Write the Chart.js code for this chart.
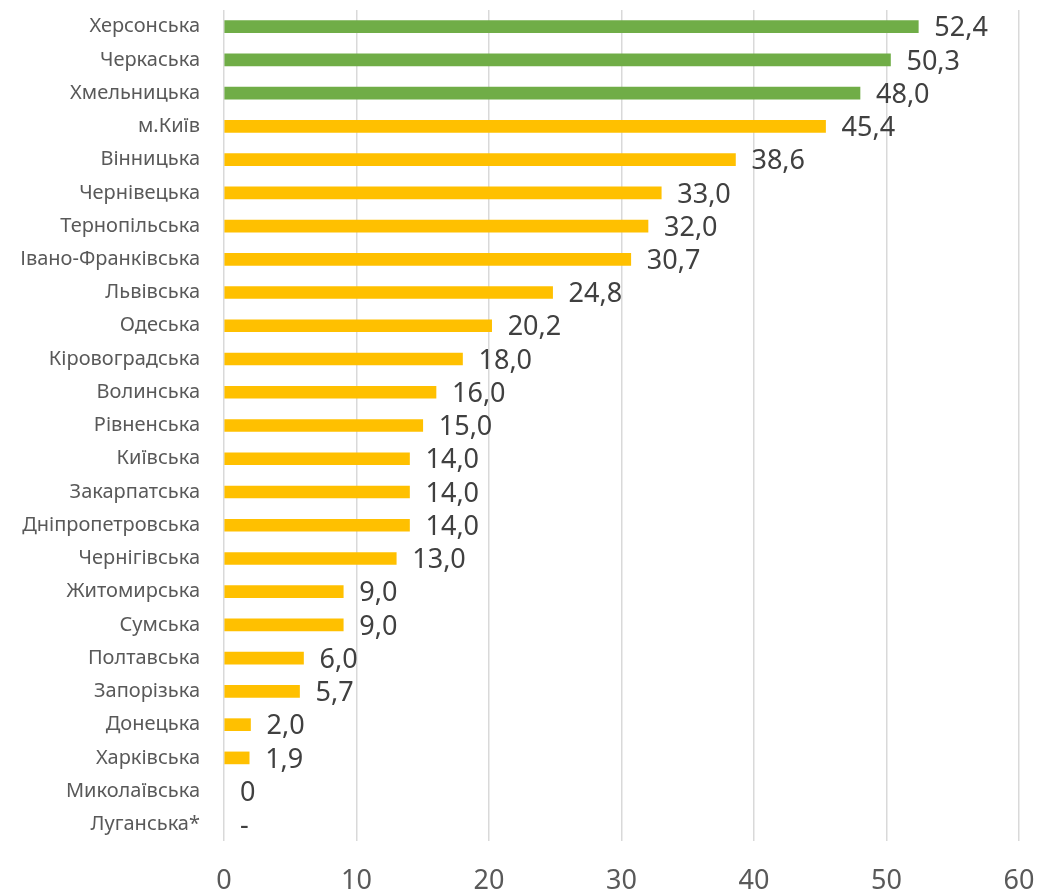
<!DOCTYPE html>
<html><head><meta charset="utf-8">
<script src="https://cdn.jsdelivr.net/npm/chart.js@4/dist/chart.umd.min.js"></script>
<style>html,body{margin:0;padding:0;background:#fff;}#wrap{width:1041px;height:894px;}</style>
</head><body><div id="wrap"><canvas id="c" width="1041" height="894"></canvas></div>
<script>
const categories = ["Херсонська","Черкаська","Хмельницька","м.Київ","Вінницька","Чернівецька","Тернопільська","Івано-Франківська","Львівська","Одеська","Кіровоградська","Волинська","Рівненська","Київська","Закарпатська","Дніпропетровська","Чернігівська","Житомирська","Сумська","Полтавська","Запорізька","Донецька","Харківська","Миколаївська","Луганська*"];
const values = [52.4,50.3,48.0,45.4,38.6,33.0,32.0,30.7,24.8,20.2,18.0,16.0,15.0,14.0,14.0,14.0,13.0,9.0,9.0,6.0,5.7,2.0,1.9,0,null];
const valueLabels = ["52,4","50,3","48,0","45,4","38,6","33,0","32,0","30,7","24,8","20,2","18,0","16,0","15,0","14,0","14,0","14,0","13,0","9,0","9,0","6,0","5,7","2,0","1,9","0","-"];
const topGroupCount = 3;
const xTicks = [0,10,20,30,40,50,60];

const colors = values.map((v,i)=> !v ? "rgba(0,0,0,0)" : (i < topGroupCount ? "#70AD47" : "#FFC000"));

const labelPlugin = {
  id: "valLabels",
  afterDatasetsDraw(chart){
    const ctx = chart.ctx;
    const meta = chart.getDatasetMeta(0);
    const xs = chart.scales.x;
    ctx.save();
    ctx.font = "27px 'Noto Sans', 'Open Sans', sans-serif";
    ctx.fillStyle = "#404040";
    ctx.textAlign = "left";
    ctx.textBaseline = "middle";
    meta.data.forEach((bar,i)=>{
      const v = values[i];
      const xEnd = v == null ? xs.getPixelForValue(0) : bar.x;
      ctx.fillText(valueLabels[i], xEnd + 16, bar.y + 2);
    });
    ctx.restore();
  }
};

new Chart(document.getElementById("c"), {
  type: "bar",
  data: { labels: categories, datasets: [{ data: values, backgroundColor: colors, barThickness: 12 }] },
  options: {
    indexAxis: "y",
    responsive: false,
    animation: false,
    layout: { padding: { top: 10, right: 22, left: 0, bottom: 0 } },
    plugins: { legend: { display: false }, tooltip: { enabled: false } },
    scales: {
      x: {
        min: 0, max: 60,
        afterBuildTicks(s){ s.ticks = xTicks.map(v=>({value:v})); },
        afterFit(s){ s.height = 53; s.paddingLeft = 0; s.paddingRight = 0; },
        grid: { color: "#d9d9d9", lineWidth: 1.5, drawTicks: false },
        border: { display: false },
        ticks: { color: "#595959", font: { size: 27, family: "'Noto Sans', 'Open Sans', sans-serif" }, padding: 24 }
      },
      y: {
        afterFit(s){ s.width = 224; s.paddingTop = 0; s.paddingBottom = 0; },
        grid: { display: false, drawTicks: false },
        border: { display: false },
        ticks: { color: "#595959", font: { size: 20, family: "'Noto Sans', 'Open Sans', sans-serif" }, padding: 24, autoSkip: false }
      }
    }
  },
  plugins: [labelPlugin]
});
</script></body></html>
